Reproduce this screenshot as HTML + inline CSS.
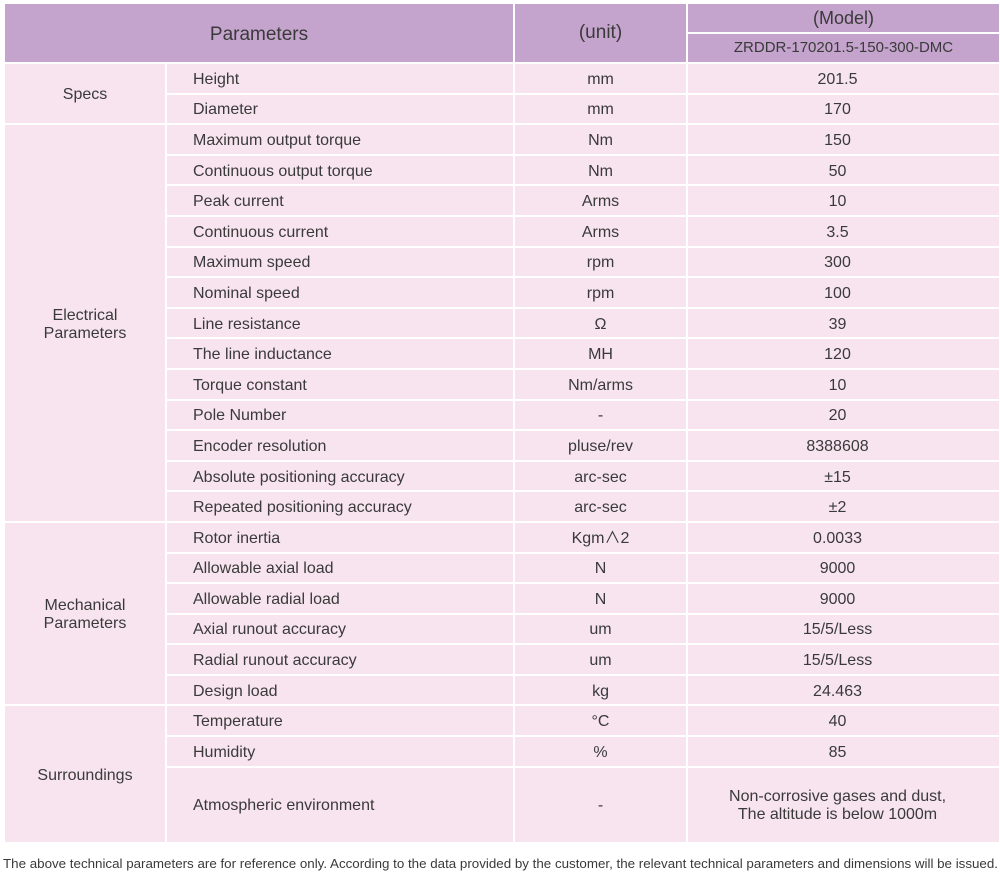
<!DOCTYPE html>
<html><head><meta charset="utf-8"><style>
body{margin:0;width:1000px;height:884px;background:#fff;overflow:hidden;font-family:"Liberation Sans","Noto Sans CJK SC",sans-serif;color:#3a3a3a}
table{position:absolute;left:3px;top:2px;width:996px;border-collapse:collapse;table-layout:fixed}
td{border:2px solid #fff;background:#f7e4ee;font-size:16px;text-align:center;padding:3px 0 0 0;height:25.6px;line-height:18px}
td.r{padding-right:12px}
tr.h td{background:#c4a3cc;height:28px;font-size:18px;padding:0}
td.p{text-align:left;padding-left:26px}
.foot{position:absolute;left:3px;top:852px}
</style></head><body>
<table>
<colgroup><col style="width:162px"><col style="width:348px"><col style="width:173px"><col style="width:313px"></colgroup>
<tr class="h"><td colspan="2" rowspan="2" style="font-size:19px;padding-top:3px">Parameters</td><td rowspan="2" style="font-size:19px">(unit)</td><td style="font-size:18px">(Model)</td></tr>
<tr class="h"><td style="font-size:15px">ZRDDR-170201.5-150-300-DMC</td></tr>
<tr><td rowspan="2">Specs</td><td class="p">Height</td><td>mm</td><td class="r">201.5</td></tr>
<tr><td class="p">Diameter</td><td>mm</td><td class="r">170</td></tr>
<tr><td rowspan="13">Electrical<br>Parameters</td><td class="p">Maximum output torque</td><td>Nm</td><td class="r">150</td></tr>
<tr><td class="p">Continuous output torque</td><td>Nm</td><td class="r">50</td></tr>
<tr><td class="p">Peak current</td><td>Arms</td><td class="r">10</td></tr>
<tr><td class="p">Continuous current</td><td>Arms</td><td class="r">3.5</td></tr>
<tr><td class="p">Maximum speed</td><td>rpm</td><td class="r">300</td></tr>
<tr><td class="p">Nominal speed</td><td>rpm</td><td class="r">100</td></tr>
<tr><td class="p">Line resistance</td><td>Ω</td><td class="r">39</td></tr>
<tr><td class="p">The line inductance</td><td>MH</td><td class="r">120</td></tr>
<tr><td class="p">Torque constant</td><td>Nm/arms</td><td class="r">10</td></tr>
<tr><td class="p">Pole Number</td><td>-</td><td class="r">20</td></tr>
<tr><td class="p">Encoder resolution</td><td>pluse/rev</td><td class="r">8388608</td></tr>
<tr><td class="p">Absolute positioning accuracy</td><td>arc-sec</td><td class="r">±15</td></tr>
<tr><td class="p">Repeated positioning accuracy</td><td>arc-sec</td><td class="r">±2</td></tr>
<tr><td rowspan="6">Mechanical<br>Parameters</td><td class="p">Rotor inertia</td><td>Kgm∧2</td><td class="r">0.0033</td></tr>
<tr><td class="p">Allowable axial load</td><td>N</td><td class="r">9000</td></tr>
<tr><td class="p">Allowable radial load</td><td>N</td><td class="r">9000</td></tr>
<tr><td class="p">Axial runout accuracy</td><td>um</td><td class="r">15/5/Less</td></tr>
<tr><td class="p">Radial runout accuracy</td><td>um</td><td class="r">15/5/Less</td></tr>
<tr><td class="p">Design load</td><td>kg</td><td class="r">24.463</td></tr>
<tr><td rowspan="3">Surroundings</td><td class="p">Temperature</td><td>°C</td><td class="r">40</td></tr>
<tr><td class="p">Humidity</td><td>%</td><td class="r">85</td></tr>
<tr><td class="p" style="height:71px">Atmospheric environment</td><td>-</td><td class="r">Non-corrosive gases and dust,<br>The altitude is below 1000m</td></tr>
</table>
<svg class="foot" width="997" height="24"><text x="0" y="16" font-size="13" fill="#3a3a3a" font-family="Liberation Sans, sans-serif" textLength="995" lengthAdjust="spacingAndGlyphs">The above technical parameters are for reference only. According to the data provided by the customer, the relevant technical parameters and dimensions will be issued.</text></svg>
</body></html>
